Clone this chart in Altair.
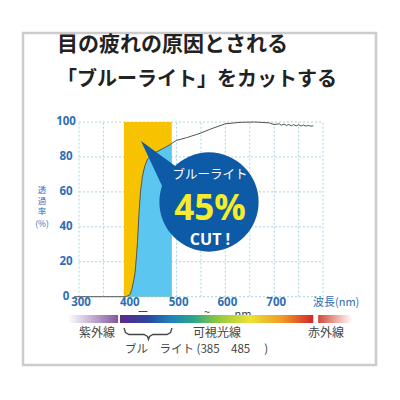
import altair as alt
import pandas as pd

# ---------------- data ----------------
wavelength = [290, 300, 350, 395, 400, 404, 408, 412, 415, 418, 420, 423, 426, 430, 435, 441,
              450, 460, 470, 480, 486, 490, 500, 520, 548, 570, 600, 630, 660, 690, 700,
              710, 715, 720, 725, 730, 735, 740, 745, 750, 755, 760, 765, 770, 775, 780]
transmittance = [0, 0, 0, 0, 0.5, 1, 4, 9, 14, 24, 32, 48, 60, 69, 75, 79,
                 81.5, 83, 84.5, 86, 87, 87.8, 89.5, 91, 93.5, 96, 99, 99.8, 100, 99.5, 98.5,
                 99, 98.2, 98.8, 98, 98.6, 97.8, 98.5, 97.8, 98.4, 97.7, 98.3, 97.6, 98.1, 97.6, 97.8]
band_start, band_end = 392, 490          # blue-light band (yellow)
fill_start, fill_end = 398, 490          # transmitted blue-light area
x_ticks = [300, 400, 500, 600, 700]
y_ticks = [0, 20, 40, 60, 80, 100]
x_grid = [300, 350, 400, 450, 500, 550, 600, 650, 700, 750, 800]
y_grid = [0, 20, 40, 60, 80, 100]
spectrum_visible = (384, 780)
spectrum_uv = (277, 380)
spectrum_ir = (790, 860)

title_lines = ["目の疲れの原因とされる", "「ブルーライト」をカットする"]

# ---------------- helpers ----------------
OX, OY = 8, 8
def px2x(px):
    return 300 + (px - 79) / 0.488
def py2y(py):
    return (296.7 - py) / 1.747

xs = alt.Scale(domain=[300, 800], range=[79 - OX, 323 - OX])
ys = alt.Scale(domain=[0, 100], range=[296.7 - OY, 122 - OY])

JP = "Noto Sans CJK JP"
BLUE_TXT = "#2f6eb5"
one = pd.DataFrame({"a": [0]})

def txt(s, x, y, size, color="#333", weight="normal", align="center", font=JP, baseline="middle"):
    return alt.Chart(one).mark_text(text=s, fontSize=size, color=color, fontWeight=weight,
                                    align=align, baseline=baseline, font=font).encode(
        x=alt.value(x - OX), y=alt.value(y - OY))

layers = []

# frame
layers.append(alt.Chart(one).mark_rect(filled=False, stroke="#cccccc", strokeWidth=2.5).encode(
    x=alt.value(23 - OX), x2=alt.value(376 - OX), y=alt.value(33 - OY), y2=alt.value(365 - OY)))

# grid
vg = pd.DataFrame({"x": x_grid, "y0": [0] * len(x_grid), "y1": [100] * len(x_grid)})
layers.append(alt.Chart(vg).mark_rule(color="#a8d5dc", strokeDash=[2, 2], strokeWidth=1).encode(
    x=alt.X("x:Q", scale=xs, axis=None), y=alt.Y("y0:Q", scale=ys, axis=None), y2="y1:Q"))
hg = pd.DataFrame({"y": y_grid, "x0": [300] * len(y_grid), "x1": [800] * len(y_grid)})
layers.append(alt.Chart(hg).mark_rule(color="#a8d5dc", strokeDash=[2, 2], strokeWidth=1).encode(
    y=alt.Y("y:Q", scale=ys, axis=None), x=alt.X("x0:Q", scale=xs, axis=None), x2="x1:Q"))

# yellow band
band = pd.DataFrame({"a": [band_start], "b": [band_end], "lo": [0], "hi": [100]})
layers.append(alt.Chart(band).mark_rect(color="#f7c200").encode(
    x=alt.X("a:Q", scale=xs, axis=None), x2="b:Q",
    y=alt.Y("lo:Q", scale=ys, axis=None), y2="hi:Q"))

curve = pd.DataFrame({"nm": wavelength, "t": transmittance})
# blue filled area
layers.append(alt.Chart(curve).transform_filter(
    (alt.datum.nm >= fill_start) & (alt.datum.nm <= fill_end)).mark_area(color="#5bc6ef").encode(
    x=alt.X("nm:Q", scale=xs, axis=None), y=alt.Y("t:Q", scale=ys, axis=None)))
# curve line
layers.append(alt.Chart(curve).mark_line(color="#555555", strokeWidth=1).encode(
    x=alt.X("nm:Q", scale=xs, axis=None), y=alt.Y("t:Q", scale=ys, axis=None)))

# bubble pointer
ptr = pd.DataFrame({"x": [px2x(141), px2x(178)], "y": [py2y(141), py2y(168)], "y2": [py2y(141), py2y(220)]})
BUB = "#0d5aa6"
layers.append(alt.Chart(ptr).mark_area(color=BUB).encode(
    x=alt.X("x:Q", scale=xs, axis=None), y=alt.Y("y:Q", scale=ys, axis=None), y2="y2:Q"))
# bubble circle
circ = pd.DataFrame({"x": [px2x(209)], "y": [py2y(202)]})
layers.append(alt.Chart(circ).mark_point(shape="circle", filled=True, opacity=1, color=BUB,
                                         size=3.1416 * 56 * 56).encode(
    x=alt.X("x:Q", scale=xs, axis=None), y=alt.Y("y:Q", scale=ys, axis=None)))
layers.append(txt("ブルーライト", 210, 175, 12.5, color="white", weight="normal"))
layers.append(txt("45%", 210, 209, 35, color="#f4ec2c", weight="bold", font="Open Sans"))
layers.append(txt("CUT !", 210, 240, 16, color="white", weight="bold", font="Open Sans"))

# tick labels
yt = pd.DataFrame({"v": y_ticks, "lbl": [str(v) for v in y_ticks]})
layers.append(alt.Chart(yt).mark_text(fontSize=11.5, fontWeight="bold", color=BLUE_TXT, font="Open Sans",
                                      align="center", baseline="middle").encode(
    y=alt.Y("v:Q", scale=ys, axis=None), x=alt.value(66 - OX), text="lbl:N"))
xt = pd.DataFrame({"v": x_ticks, "lbl": [str(v) for v in x_ticks]})
layers.append(alt.Chart(xt).mark_text(fontSize=11.5, fontWeight="bold", color=BLUE_TXT, font="Open Sans",
                                      align="center", baseline="middle", dx=2).encode(
    x=alt.X("v:Q", scale=xs, axis=None), y=alt.value(303 - OY), text="lbl:N"))
layers.append(txt("波長(nm)", 313, 303, 11, color=BLUE_TXT, align="left"))
for ch, yy in zip(["透", "過", "率", "(%)"], [190, 200.5, 211, 224]):
    layers.append(txt(ch, 42, yy, 8.5, color=BLUE_TXT))

# fragments partly hidden by the spectrum bar
layers.append(txt("ー", 143, 313, 11, color="#444"))
layers.append(txt("~", 207, 313, 11, color="#444"))
layers.append(txt("nm", 243, 315, 11, color="#444"))

# spectrum bars
def grad_bar(rng, stops):
    d = pd.DataFrame({"a": [rng[0]], "b": [rng[1]]})
    g = alt.Gradient(gradient="linear", x1=0, x2=1, y1=0, y2=0,
                     stops=[alt.GradientStop(color=c, offset=o) for o, c in stops])
    return alt.Chart(d).mark_rect(fill=g).encode(
        x=alt.X("a:Q", scale=xs, axis=None), x2="b:Q",
        y=alt.value(315 - OY), y2=alt.value(323 - OY))

layers.append(grad_bar(spectrum_uv, [(0, "#ffffff"), (1, "#84579e")]))
layers.append(grad_bar(spectrum_visible, [(0, "#5b2a8c"), (0.14, "#2d449e"), (0.27, "#1f86b8"),
                                         (0.38, "#2aa58c"), (0.5, "#8cc63f"), (0.67, "#ece334"),
                                         (0.84, "#f09a25"), (1, "#d3262c")]))
layers.append(grad_bar(spectrum_ir, [(0, "#d24a3a"), (1, "#ffffff")]))

layers.append(txt("紫外線", 97, 333, 12, color="#444"))
layers.append(txt("可視光線", 217, 333, 12, color="#444"))
layers.append(txt("赤外線", 326, 333, 12, color="#444"))
layers.append(txt("ブル　ライト (385　485　 )", 125, 350, 11.5, color="#444", align="left"))

# brace
bpx = [124, 125.5, 129, 144, 147.5, 148.5, 149.5, 153, 167, 170.5, 172]
bpy = [328, 332.5, 334.5, 334.5, 336.5, 339.5, 336.5, 334.5, 334.5, 332.5, 328]
brace = pd.DataFrame({"x": [px2x(p) for p in bpx], "y": [py2y(p) for p in bpy]})
layers.append(alt.Chart(brace).mark_line(color="#444", strokeWidth=1.3).encode(
    x=alt.X("x:Q", scale=xs, axis=None), y=alt.Y("y:Q", scale=ys, axis=None), order="x:Q"))

# title
layers.append(txt(title_lines[0], 57, 45, 21, color="#222", weight="bold", align="left"))
layers.append(txt(title_lines[1], 57, 80, 20, color="#222", weight="bold", align="left"))

chart = alt.layer(*layers).properties(
    width=384, height=384, autosize=alt.AutoSizeParams(type="none"), padding=0
).configure_view(stroke=None)

chart.save("out.html", embed_options={"renderer": "svg", "actions": False})
